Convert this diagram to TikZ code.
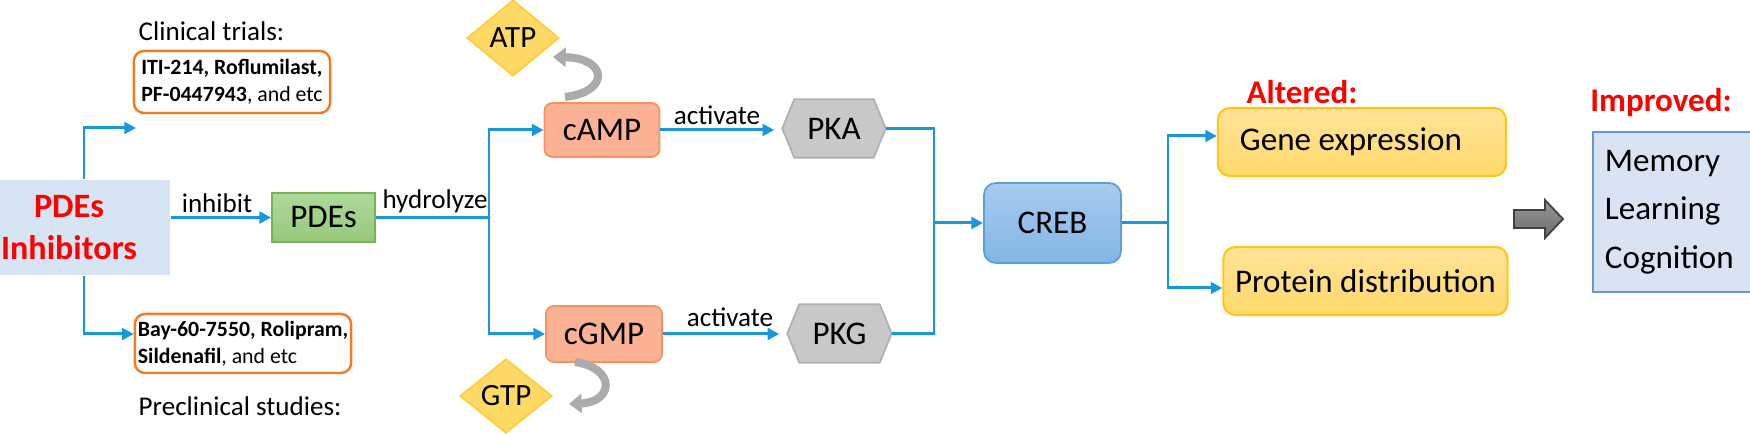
\documentclass[tikz,border=0pt]{standalone}
\usepackage{fontspec}
\setmainfont{Carlito}
\usetikzlibrary{arrows.meta,shapes.geometric,backgrounds,calc}
\definecolor{lblue}{HTML}{1A96DA}
\definecolor{pibfill}{HTML}{D7E4F4}
\definecolor{orgdraw}{HTML}{F47B20}
\definecolor{campfill}{HTML}{FBB193}
\definecolor{campdraw}{HTML}{F7935A}
\definecolor{grntop}{HTML}{AED99A}
\definecolor{grnbot}{HTML}{95C97B}
\definecolor{grndraw}{HTML}{74B451}
\definecolor{hexfill}{HTML}{C8C8C8}
\definecolor{hexdraw}{HTML}{B0B0B0}
\definecolor{diafill}{HTML}{FFD965}
\definecolor{diadraw}{HTML}{FFCD3C}
\definecolor{crebtop}{HTML}{A8CBEE}
\definecolor{crebbot}{HTML}{82B5E5}
\definecolor{crebdraw}{HTML}{5D9FDB}
\definecolor{genetop}{HTML}{FFE399}
\definecolor{genebot}{HTML}{FFD96A}
\definecolor{genedraw}{HTML}{FFC619}
\definecolor{memfill}{HTML}{DAE3F3}
\definecolor{memdraw}{HTML}{6A93D8}
\definecolor{curvgray}{HTML}{ABABAB}
\definecolor{bigtop}{HTML}{959595}
\definecolor{bigbot}{HTML}{6E6E6E}
\definecolor{bigdraw}{HTML}{404040}
\begin{document}
\begin{tikzpicture}[x=0.01cm,y=-0.01cm,
  conn/.style={draw=lblue, line width=0.85pt},
  arr/.style={conn, -{Triangle[length=3.3pt,width=3.3pt]}},
  lbl/.style={inner sep=0pt, font=\fontsize{7.7pt}{9pt}\selectfont},
  mainf/.style={font=\fontsize{9.4pt}{11pt}\selectfont},
  drugbox/.style={draw=orgdraw, fill=white, line width=0.7pt, rounded corners=0.1cm, align=left, inner sep=0pt, font=\fontsize{6.2pt}{7.6pt}\selectfont},
  cbox/.style={mainf, draw=campdraw, fill=campfill, line width=0.5pt, rounded corners=0.08cm},
  hexnode/.style={mainf, inner sep=0pt},
  hexs/.style={fill=hexfill, draw=hexdraw, line width=0.5pt},
  dia/.style={diamond, fill=diafill, draw=diadraw, line width=0.5pt, inner sep=0pt, font=\fontsize{8.8pt}{10pt}\selectfont},
  ybox/.style={mainf, top color=genetop, bottom color=genebot, draw=genedraw, line width=0.6pt, rounded corners=0.12cm},
  redt/.style={inner sep=0pt, text=red, font=\bfseries\fontsize{9.4pt}{11pt}\selectfont},
  curv/.style={draw=curvgray, line width=2.3pt, -{Triangle[length=3.6pt,width=5.4pt]}}
]
\useasboundingbox (0,0) rectangle (1750,434);
\begin{scope}
\clip (0,0) rectangle (1750,434);

% left part
\node[fill=pibfill, minimum width=2.02cm, minimum height=0.95cm, inner sep=0pt, align=center, text=red,
      font=\bfseries\fontsize{9.7pt}{12pt}\selectfont] (pib) at (69,227.5) {PDEs\\Inhibitors};
\node[lbl, anchor=west] (ctl) at (138,31) {Clinical trials:};
\node[drugbox, minimum width=1.96cm, minimum height=0.62cm] (ct) at (232,82)
  {\textbf{ITI-214, Roflumilast,}\\\textbf{PF-0447943}, and etc};
\node[drugbox, minimum width=2.16cm, minimum height=0.59cm] (pc) at (243,343.5)
  {\textbf{Bay-60-7550, Rolipram,}\\\textbf{Sildenafil}, and etc};
\node[lbl, anchor=west] (pcl) at (138,406) {Preclinical studies:};
\node[lbl] (inh) at (217,203) {inhibit};
\node[mainf, top color=grntop, bottom color=grnbot, draw=grndraw, line width=0.5pt,
      minimum width=1.03cm, minimum height=0.49cm] (pdes) at (323.5,217.5) {PDEs};
\node[lbl] (hyd) at (435,201) {hydrolyze};

% cyclic nucleotides
\node[cbox, minimum width=1.15cm, minimum height=0.54cm] (camp) at (602,130) {cAMP};
\node[cbox, minimum width=1.16cm, minimum height=0.56cm] (cgmp) at (604,334) {cGMP};
\node[dia, minimum width=0.92cm, minimum height=0.76cm] (atp) at (513,38) {ATP};
\node[dia, minimum width=0.92cm, minimum height=0.74cm] (gtp) at (506,396) {GTP};
\node[lbl] (act1) at (717,115) {activate};
\node[lbl] (act2) at (730,317) {activate};
\node[hexnode, minimum width=1.02cm, minimum height=0.57cm] (pka) at (834,128.5) {PKA};
\node[hexnode, minimum width=1.03cm, minimum height=0.57cm] (pkg) at (839.5,333.5) {PKG};
\begin{pgfonlayer}{background}
\foreach \n in {pka,pkg}
  \filldraw[hexs] (\n.west) -- ($(\n.north west)+(12,0)$) -- ($(\n.north east)+(-12,0)$) -- (\n.east)
     -- ($(\n.south east)+(-12,0)$) -- ($(\n.south west)+(12,0)$) -- cycle;
\end{pgfonlayer}

% right part
\node[mainf, top color=crebtop, bottom color=crebbot, draw=crebdraw, line width=0.5pt, rounded corners=0.12cm,
      minimum width=1.37cm, minimum height=0.80cm] (creb) at (1052.5,223) {CREB};
\node[redt] (alt) at (1302,92) {Altered:};
\node[ybox, minimum width=2.88cm, minimum height=0.68cm, text width=2.44cm, align=flush left, inner xsep=0.22cm] (gene) at (1362,142) {Gene expression};
\node[ybox, minimum width=2.81cm, minimum height=0.68cm] (prot) at (1365.5,281) {Protein distribution};
\node[redt] (imp) at (1661,103) {Improved:};
\node[mainf, fill=memfill, draw=memdraw, line width=0.6pt, minimum width=1.62cm, minimum height=1.60cm,
      text width=1.38cm, inner xsep=0.12cm, align=flush left, font=\fontsize{9.4pt}{13.8pt}\selectfont] (mem) at (1674,212)
      {Memory\\Learning\\Cognition};
\filldraw[top color=bigtop, bottom color=bigbot, draw=bigdraw, line width=0.5pt]
  (1514,210) -- (1545,210) -- (1545,200) -- (1563,219) -- (1545,238) -- (1545,228) -- (1514,228) -- cycle;

% connectors
\coordinate (sx) at (84,0);
\coordinate (ctin) at (136,128);
\coordinate (pcy) at (0,334);
\draw[arr] (pib.north -| sx) |- (ctin);
\draw[arr] (pib.south -| sx) |- (pc.west |- pcy);
\draw[arr] (pib.east |- pdes.west) -- (pdes.west);
\coordinate (hx) at (489,0);
\draw[conn] (pdes.east) -- (pdes.east -| hx);
\draw[arr] (pdes.east -| hx) |- (camp.west);
\draw[arr] (pdes.east -| hx) |- (cgmp.west);
\draw[arr, shorten >=0.08cm] (camp.east) -- (camp.east -| pka.west);
\draw[arr, shorten >=0.08cm] (cgmp.east) -- (cgmp.east -| pkg.west);
\coordinate (mx) at (934,0);
\draw[conn] (pka.east) -| (mx |- pkg.east) -- (pkg.east);
\draw[arr] (mx |- creb.west) -- (creb.west);
\coordinate (gx) at (1168,0);
\coordinate (gy1) at (0,136);
\coordinate (gy2) at (0,288);
\draw[conn] (creb.east) -- (creb.east -| gx);
\draw[arr] (creb.east -| gx) |- (gene.west |- gy1);
\draw[arr] (creb.east -| gx) |- (prot.west |- gy2);

% curved recycling arrows
\coordinate (a1) at (565,97);
\coordinate (a2) at (553,57);
\draw[curv] (a1) .. controls (610,92) and (608,58) .. (a2);
\coordinate (g1) at (575,362);
\coordinate (g2) at (569,404);
\draw[curv] (g1) .. controls (616,368) and (614,402) .. (g2);
\end{scope}
\end{tikzpicture}
\end{document}
